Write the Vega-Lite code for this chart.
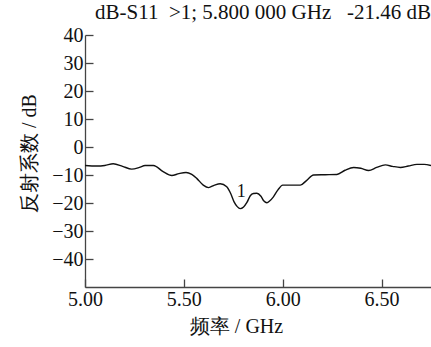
{
  "$schema": "https://vega.github.io/schema/vega-lite/v6.json",
  "width": 346,
  "height": 252,
  "autosize": {"type": "none"},
  "padding": {"left": 85, "top": 35, "right": 0, "bottom": 60},
  "background": "white",
  "config": {
    "view": {"stroke": null},
    "font": "Liberation Serif",
    "axis": {"grid": false, "domainColor": "#444", "tickColor": "#444", "labelColor": "#111", "titleColor": "#111", "labelFont": "Liberation Serif", "titleFont": "Liberation Serif", "labelFontSize": 20, "titleFontSize": 20, "titleFontWeight": "normal", "domainWidth": 1.3, "tickWidth": 1.3}
  },
  "title": {
    "text": "dB-S11\u00a0\u00a0>1; 5.800 000 GHz\u00a0\u00a0\u00a0-21.46 dB",
    "anchor": "end",
    "fontSize": 21,
    "fontWeight": "normal",
    "font": "Liberation Serif",
    "color": "#111",
    "offset": 2
  },
  "datasets": {
    "s11": [
      {"f": 5.000, "db": -6.6},
      {"f": 5.060, "db": -6.8},
      {"f": 5.100, "db": -6.6},
      {"f": 5.143, "db": -6.0},
      {"f": 5.190, "db": -6.9},
      {"f": 5.236, "db": -7.9},
      {"f": 5.275, "db": -7.3},
      {"f": 5.304, "db": -6.6},
      {"f": 5.346, "db": -6.6},
      {"f": 5.395, "db": -8.8},
      {"f": 5.439, "db": -10.2},
      {"f": 5.475, "db": -9.5},
      {"f": 5.511, "db": -9.1},
      {"f": 5.540, "db": -9.8},
      {"f": 5.565, "db": -11.2},
      {"f": 5.598, "db": -13.6},
      {"f": 5.625, "db": -14.5},
      {"f": 5.655, "db": -13.6},
      {"f": 5.684, "db": -13.1},
      {"f": 5.717, "db": -14.2},
      {"f": 5.738, "db": -16.8},
      {"f": 5.754, "db": -19.6},
      {"f": 5.770, "db": -21.3},
      {"f": 5.785, "db": -22.0},
      {"f": 5.802, "db": -21.4},
      {"f": 5.819, "db": -19.8},
      {"f": 5.836, "db": -17.4},
      {"f": 5.852, "db": -16.6},
      {"f": 5.869, "db": -16.5},
      {"f": 5.890, "db": -17.6},
      {"f": 5.905, "db": -19.3},
      {"f": 5.920, "db": -19.9},
      {"f": 5.935, "db": -19.2},
      {"f": 5.953, "db": -17.8},
      {"f": 5.975, "db": -15.4},
      {"f": 6.000, "db": -13.6},
      {"f": 6.045, "db": -13.6},
      {"f": 6.089, "db": -13.6},
      {"f": 6.120, "db": -12.0},
      {"f": 6.156, "db": -10.0},
      {"f": 6.215, "db": -9.9},
      {"f": 6.274, "db": -9.8},
      {"f": 6.315, "db": -8.3},
      {"f": 6.359, "db": -7.3},
      {"f": 6.395, "db": -7.6},
      {"f": 6.435, "db": -8.4},
      {"f": 6.475, "db": -7.3},
      {"f": 6.519, "db": -6.4},
      {"f": 6.555, "db": -6.9},
      {"f": 6.595, "db": -7.3},
      {"f": 6.635, "db": -6.8},
      {"f": 6.679, "db": -6.2},
      {"f": 6.715, "db": -6.2},
      {"f": 6.750, "db": -6.6}
    ],
    "marker": [
      {"f": 5.8, "db": -21.46, "label": "1"}
    ]
  },
  "encoding": {
    "x": {
      "field": "f", "type": "quantitative",
      "scale": {"domain": [5.0, 6.75], "nice": false, "zero": false},
      "axis": {"title": "频率 / GHz", "values": [5.0, 5.5, 6.0, 6.5], "format": ".2f", "tickSize": -8, "labelPadding": 10, "titlePadding": 7, "titleX": 151, "labelFlush": false, "labelOverlap": false}
    },
    "y": {
      "field": "db", "type": "quantitative",
      "scale": {"domain": [-50, 40], "nice": false, "zero": false},
      "axis": {"title": "反射系数 / dB", "values": [-40, -30, -20, -10, 0, 10, 20, 30, 40], "tickSize": -8, "labelPadding": 10, "titlePadding": 12, "titleY": 118, "labelFlush": false, "labelOverlap": false}
    }
  },
  "layer": [
    {
      "data": {"name": "s11"},
      "mark": {"type": "line", "color": "#111", "strokeWidth": 1.4, "interpolate": "monotone", "clip": true}
    },
    {
      "data": {"name": "marker"},
      "mark": {"type": "text", "font": "Liberation Serif", "fontSize": 18, "color": "#111", "dy": -15, "dx": -2, "baseline": "middle"},
      "encoding": {
        "text": {"field": "label"}
      }
    }
  ]
}
